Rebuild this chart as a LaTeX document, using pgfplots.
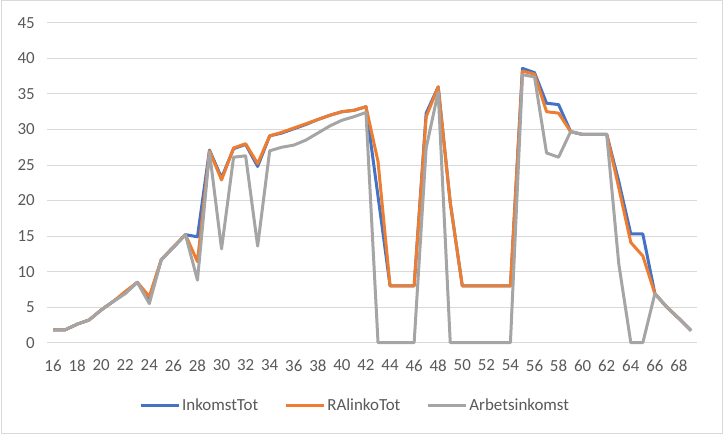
\documentclass[border=0pt]{standalone}
\usepackage{pgfplots}
\pgfplotsset{compat=1.18}
\usepackage{pgfplotstable}
\usepackage{fontspec}
\setmainfont{Carlito}

\definecolor{serblue}{HTML}{4472C4}
\definecolor{serorange}{HTML}{ED7D31}
\definecolor{sergray}{HTML}{A5A5A5}
\definecolor{gridgray}{HTML}{D9D9D9}
\definecolor{txtgray}{HTML}{595959}

% age, InkomstTot, RAlinkoTot, Arbetsinkomst
\pgfplotstableread{
x   ink   ral   arb
16  1.8   1.8   1.8
17  1.8   1.8   1.8
18  2.6   2.6   2.6
19  3.2   3.2   3.2
20  4.6   4.6   4.6
21  5.8   5.8   5.8
22  7.0   7.2   6.9
23  8.5   8.5   8.5
24  6.2   6.5   5.5
25  11.7  11.7  11.7
26  13.4  13.5  13.4
27  15.2  15.2  15.2
28  14.9  11.4  8.8
29  27.1  27.0  26.8
30  23.2  22.9  13.2
31  27.3  27.4  26.1
32  27.9  28.0  26.3
33  24.8  25.2  13.6
34  29.1  29.1  27.0
35  29.5  29.6  27.5
36  30.1  30.2  27.8
37  30.7  30.8  28.5
38  31.4  31.4  29.5
39  32.0  32.0  30.5
40  32.5  32.5  31.3
41  32.7  32.7  31.8
42  33.2  33.2  32.4
43  20.6  25.5  0
44  8.0   8.0   0
45  8.0   8.0   0
46  8.0   8.0   0
47  32.3  31.8  27.4
48  36.0  36.0  35.3
49  19.7  19.7  0
50  8.0   8.0   0
51  8.0   8.0   0
52  8.0   8.0   0
53  8.0   8.0   0
54  8.0   8.0   0
55  38.6  38.2  37.7
56  38.0  37.8  37.4
57  33.7  32.5  26.7
58  33.5  32.3  26.1
59  29.7  29.7  29.7
60  29.3  29.3  29.3
61  29.3  29.3  29.3
62  29.3  29.3  29.3
63  22.7  21.8  11.1
64  15.3  14.1  0
65  15.3  12.2  0
66  6.9   6.9   6.9
67  5.0   5.0   5.0
68  3.4   3.4   3.4
69  1.7   1.7   1.7
}\incdata

\begin{document}
\begin{tikzpicture}[x=1bp,y=1bp]
\useasboundingbox (0,0) rectangle (724,436);
\draw[gridgray, line width=1bp] (1,2.5) rectangle (722.5,435.5);
\begin{axis}[
    at={(47bp,93.3bp)}, anchor=south west,
    scale only axis, width=650bp, height=319.8bp,
    xmin=15.5, xmax=69.5, ymin=0, ymax=45,
    xtick={16,18,...,68}, ytick={0,5,...,45},
    axis line style={draw=none},
    major tick length=0pt,
    ymajorgrids, grid style={gridgray, line width=1bp},
    /pgf/number format/assume math mode=true,
    ticklabel style={font=\fontsize{17}{20}\selectfont, text=txtgray, inner sep=0pt},
    yticklabel style={anchor=east, xshift=-12bp},
    xticklabel style={anchor=north, yshift=-17bp},
    legend columns=-1,
    legend style={draw=none, at={(0.474,-0.195)}, anchor=center,
      font=\fontsize{17}{20}\selectfont, text=txtgray,
      /tikz/every even column/.append style={column sep=24bp},
      inner sep=0pt},
    legend image code/.code={\draw[#1] (0bp,0bp) -- (38bp,0bp);},
    every axis plot/.append style={line width=3bp, line join=round, mark=none},
    clip=false
    ]
\addplot[serblue] table[x=x, y=ink] {\incdata};
\addlegendentry{InkomstTot}
\addplot[serorange] table[x=x, y=ral] {\incdata};
\addlegendentry{RAlinkoTot}
\addplot[sergray] table[x=x, y=arb] {\incdata};
\addlegendentry{Arbetsinkomst}
\end{axis}
\end{tikzpicture}
\end{document}
